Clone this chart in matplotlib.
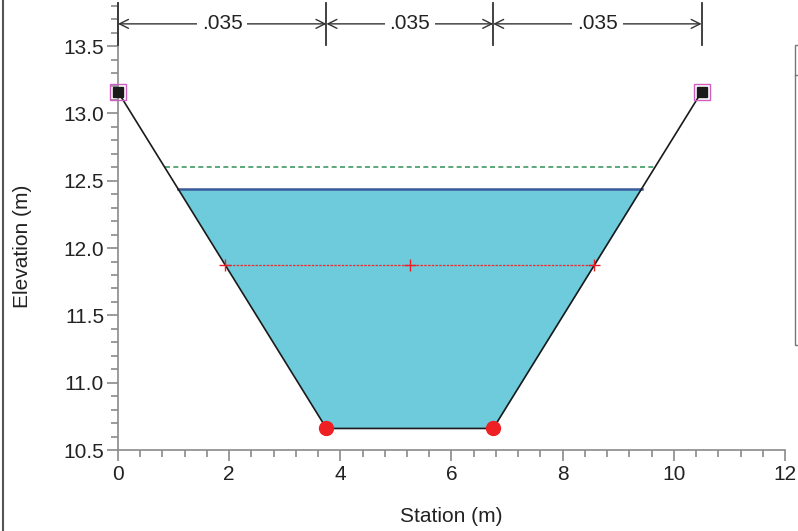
import numpy as np
import matplotlib
matplotlib.use("Agg")
import matplotlib.pyplot as plt
from matplotlib.ticker import MultipleLocator, FormatStrFormatter
from matplotlib.lines import Line2D
from matplotlib.patches import Rectangle

# ---- data ----
station = [0.0, 3.75, 6.75, 10.5]
elevation = [13.16, 10.66, 10.66, 13.16]
bank_stations = [0.0, 10.5]
mannings_n = [".035", ".035", ".035"]
n_breaks = [0.0, 3.75, 6.75, 10.5]
ws_elev = 12.44      # water surface
eg_elev = 12.60      # energy grade
crit_elev = 11.874   # red dotted line

plt.rcParams['font.family'] = ['Liberation Sans', 'DejaVu Sans']

fig = plt.figure(figsize=(7.98, 5.31), dpi=100)
ax = fig.add_axes([118/798, 1-450/531, (785-118)/798, 447/531])

st = np.array(station)
el = np.array(elevation)

def crossings(level):
    xl = np.interp(level, el[:2][::-1], st[:2][::-1])
    xr = np.interp(level, el[2:], st[2:])
    return xl, xr

# water fill
xl, xr = crossings(ws_elev)
xs = np.array([xl, station[1], station[2], xr])
ground = np.interp(xs, st, el)
ax.fill_between(xs, ground, ws_elev, color='#6ecbdc', lw=0, zorder=1)
ax.plot([xl, xr], [ws_elev, ws_elev], color='#3b5a9c', lw=1.8, zorder=3)

# energy grade
el_, er_ = crossings(eg_elev)
ax.plot([el_, er_], [eg_elev, eg_elev], color='#3f9a64', lw=1.2, ls=(0, (3, 2)), zorder=3)

# critical line
cl, cr = crossings(crit_elev)
ax.plot([cl, cr], [crit_elev, crit_elev], color='#f02a2a', lw=0.9, ls=(0, (2, 1)), zorder=3)
ax.plot([cl, (cl+cr)/2, cr], [crit_elev]*3, ls='none', marker='+', color='#ee1c24',
        ms=8, mew=1.0, zorder=5)

# ground
ax.plot(station, elevation, color='#1a1a1a', lw=1.2, zorder=4)
ax.plot(station[1:3], elevation[1:3], ls='none', marker='o', color='#ee2024', ms=10, zorder=6)
bank_el = np.interp(bank_stations, st, el)
ax.plot(bank_stations, bank_el, ls='none', marker='s', color='#1a1a1a', ms=7, zorder=6, clip_on=False)
ax.plot(bank_stations, bank_el, ls='none', marker='s', mfc='none', mec='#cc5fc0', ms=11, mew=1.0, zorder=6, clip_on=False)

ax.set_xlim(0, 12)
ax.set_ylim(10.5, 13.82)

# Manning's n brackets
ya = 13.665
for x in n_breaks:
    ax.plot([x, x], [13.51, 13.82], color='#333333', lw=1.3, clip_on=False, zorder=7)
for i, lab in enumerate(mannings_n):
    a, b = n_breaks[i], n_breaks[i+1]
    ax.annotate('', xy=(a, ya), xytext=(b, ya),
                arrowprops=dict(arrowstyle='<->', color='#333333', lw=1.0,
                                shrinkA=0, shrinkB=0, mutation_scale=16),
                annotation_clip=False, zorder=7)
    ax.text((a+b)/2, ya, lab, ha='center', va='center', fontsize=15, color='#222222',
            bbox=dict(facecolor='white', edgecolor='none', pad=3.5), zorder=8)

for s in ['top', 'right']:
    ax.spines[s].set_visible(False)
for s in ['left', 'bottom']:
    ax.spines[s].set_color('#8a8a8a')
    ax.spines[s].set_linewidth(1.2)

ax.xaxis.set_major_locator(MultipleLocator(2))
ax.xaxis.set_minor_locator(MultipleLocator(0.4))
ax.yaxis.set_major_locator(MultipleLocator(0.5))
ax.yaxis.set_minor_locator(MultipleLocator(0.1))
ax.yaxis.set_major_formatter(FormatStrFormatter('%.1f'))
ax.tick_params(which='major', direction='out', length=8, width=1.2, color='#8a8a8a',
               labelsize=15, labelcolor='#222222')
ax.tick_params(which='minor', direction='out', length=5, width=1.2, color='#8a8a8a')
ax.tick_params(axis='x', pad=3)
ax.tick_params(axis='y', pad=2)

ax.set_xlabel('Station (m)', fontsize=15, color='#222222', labelpad=16)
fig.text(23/798, 1-246/531, 'Elevation (m)', rotation=90, ha='center', va='center',
         fontsize=15, color='#222222')

# window border and partial legend box
fig.add_artist(Line2D([2.5/798, 2.5/798], [0, 1], color='#555555', lw=1.5))
fig.add_artist(Rectangle((795/798, 1-345/531), 20/798, 300/531, fill=False,
                         edgecolor='#777777', lw=1.0))
fig.add_artist(Line2D([795/798, 1], [1-75/531, 1-75/531], color='#777777', lw=1.0))

fig.savefig('out.png', dpi=100)
